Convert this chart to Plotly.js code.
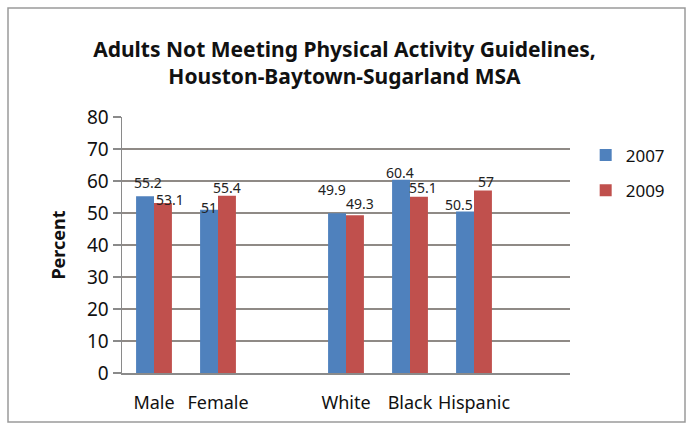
<!DOCTYPE html>
<html>
<head>
<meta charset="utf-8">
<script src="https://cdn.plot.ly/plotly-3.0.1.min.js"></script>
<style>html,body{margin:0;padding:0;background:#fff}#chart{width:689px;height:430px}</style>
</head>
<body>
<div id="chart"></div>
<script>
const categories = ["Male", "Female", "", "White", "Black", "Hispanic", ""];
const positions = [0, 1, 2, 3, 4, 5, 6];
const v2007 = [55.2, 51, null, 49.9, 60.4, 50.5, null];
const v2009 = [53.1, 55.4, null, 49.3, 55.1, 57, null];
const yTicks = [0, 10, 20, 30, 40, 50, 60, 70, 80];

// label placement (pixel offsets from each bar's top centre), styling only
const lbl2007 = {dx: [3, 0, 0, -5, -1, -6, 0], dy: [14, 2, 0, 24, 7, 7, 0]};
const lbl2009 = {dx: [7, 0, 0, 5, 4, 3, 0], dy: [4, 8, 0, 12, 9, 9, 0]};

const font = "Noto Sans, Open Sans, sans-serif";
const barHalf = 0.14;
const mk = (name, vals, color) => ({
  type: 'bar', name: name, x: positions, y: vals,
  legendgroup: name,
  marker: {color: color},
  hoverinfo: 'x+y'
});
const data = [mk('2007', v2007, '#4F81BD'), mk('2009', v2009, '#C0504D')];

const annotations = [];
[[v2007, -barHalf, lbl2007], [v2009, barHalf, lbl2009]].forEach(([vals, off, lb]) => {
  vals.forEach((v, i) => {
    if (v === null) return;
    annotations.push({x: positions[i] + off, y: v, xref: 'x', yref: 'y', text: String(v),
      showarrow: false, xanchor: 'center', yanchor: 'middle',
      xshift: lb.dx[i], yshift: lb.dy[i],
      font: {family: font, size: 14, color: '#222'}});
  });
});

const layout = {
  width: 689, height: 430,
  margin: {l: 122, r: 119, t: 117, b: 57},
  paper_bgcolor: '#fff', plot_bgcolor: '#fff',
  barmode: 'group', bargap: 0.44, bargroupgap: 0,
  title: {text: 'Adults Not Meeting Physical Activity Guidelines,<br>Houston-Baytown-Sugarland MSA',
          font: {family: font, size: 21, color: '#111', weight: 'bold'},
          x: 0.5, xanchor: 'center', yref: 'container', y: 1 - 57/430, yanchor: 'middle'},
  xaxis: {range: [-0.5, 6.5], tickmode: 'array', tickvals: positions, ticktext: categories,
          showgrid: false, zeroline: false, showline: true, linecolor: '#8a8a8a', linewidth: 1.5,
          ticks: '', ticklabelstandoff: 13, tickfont: {family: font, size: 18, color: '#111'}, fixedrange: true},
  yaxis: {range: [0, 80], tickmode: 'array', tickvals: yTicks,
          showgrid: true, gridcolor: '#8f8a86', gridwidth: 1.5, zeroline: false,
          showline: true, linecolor: '#8a8a8a', linewidth: 1.5,
          ticks: 'outside', ticklen: 8, tickcolor: '#8a8a8a', tickwidth: 1.5,
          tickfont: {family: font, size: 19, color: '#111'},
          title: {text: 'Percent', font: {family: font, size: 18, color: '#111', weight: 'bold'}, standoff: 16},
          fixedrange: true},
  legend: {x: 1.035, xanchor: 'left', y: 0.92, yanchor: 'top',
           font: {family: font, size: 17, color: '#111'}, itemwidth: 30, tracegroupgap: 10,
           bgcolor: 'rgba(0,0,0,0)'},
  annotations: annotations,
  shapes: [{type: 'rect', xref: 'paper', yref: 'paper',
            x0: (8-122)/448, x1: (685-122)/448, y0: -(422-373)/256, y1: (373-8)/256,
            line: {color: '#9a9a9a', width: 1.5}, fillcolor: 'rgba(0,0,0,0)', layer: 'below'}],
  showlegend: true
};
Plotly.newPlot('chart', data, layout, {staticPlot: true});
</script>
</body>
</html>
